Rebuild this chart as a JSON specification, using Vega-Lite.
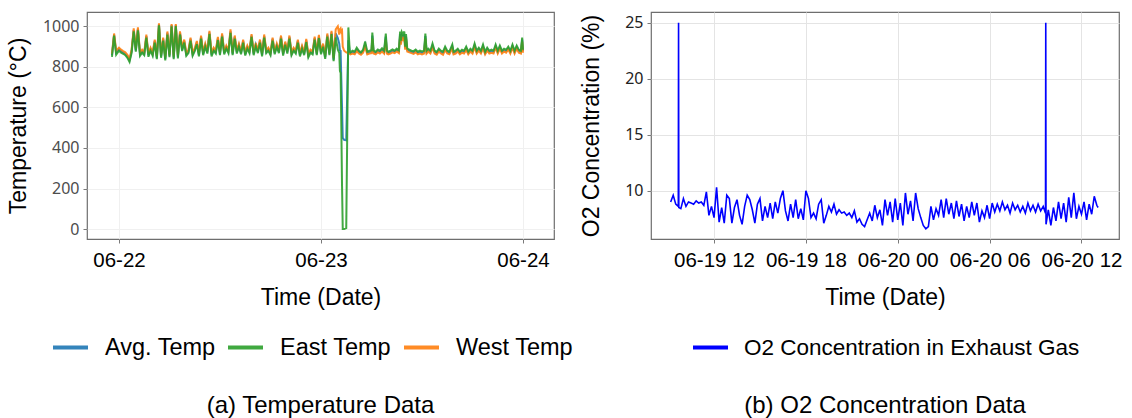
{
"$schema": "https://vega.github.io/schema/vega-lite/v6.json",
"background": "white",
"padding": {"left": 6, "top": 11, "right": 4, "bottom": 4},
"config": {
  "view": {"stroke": "#6e6e6e", "strokeWidth": 1.2},
  "font": "Liberation Sans",
  "axis": {"grid": true, "domain": false, "tickColor": "#7a7a7a", "tickSize": 4, "titleFont": "Liberation Sans", "titleFontWeight": "normal", "titleColor": "black", "titleFontSize": 23, "labelColor": "black"},
  "legend": {"padding": 0, "offset": 0, "symbolType": "stroke", "symbolStrokeWidth": 4, "symbolSize": 1225, "labelFontSize": 23.5, "labelFont": "Liberation Sans", "labelColor": "black", "labelOffset": 15, "labelLimit": 0, "columnPadding": 4, "direction": "horizontal", "title": null},
  "title": {"font": "Liberation Sans", "fontSize": 24, "fontWeight": "normal", "color": "black", "anchor": "middle"}
},
"resolve": {"scale": {"color": "independent"}, "legend": {"color": "independent"}},
"datasets": {
"temp": [
{"t":"2023-06-21T23:10","e":850,"w":865,"a":858},
{"t":"2023-06-21T23:25","e":955,"w":965,"a":960},
{"t":"2023-06-21T23:40","e":860,"w":880,"a":870},
{"t":"2023-06-22T00:00","e":880,"w":895,"a":888},
{"t":"2023-06-22T00:15","e":870,"w":885,"a":878},
{"t":"2023-06-22T00:30","e":865,"w":878,"a":872},
{"t":"2023-06-22T00:45","e":858,"w":872,"a":865},
{"t":"2023-06-22T01:00","e":845,"w":860,"a":852},
{"t":"2023-06-22T01:15","e":825,"w":840,"a":832},
{"t":"2023-06-22T01:30","e":870,"w":885,"a":878},
{"t":"2023-06-22T01:45","e":975,"w":990,"a":982},
{"t":"2023-06-22T02:00","e":875,"w":890,"a":882},
{"t":"2023-06-22T02:15","e":980,"w":995,"a":988},
{"t":"2023-06-22T02:30","e":855,"w":870,"a":862},
{"t":"2023-06-22T02:45","e":870,"w":885,"a":878},
{"t":"2023-06-22T03:00","e":858,"w":872,"a":865},
{"t":"2023-06-22T03:15","e":945,"w":960,"a":952},
{"t":"2023-06-22T03:30","e":850,"w":866,"a":858},
{"t":"2023-06-22T03:45","e":880,"w":895,"a":888},
{"t":"2023-06-22T04:00","e":855,"w":870,"a":862},
{"t":"2023-06-22T04:15","e":920,"w":935,"a":928},
{"t":"2023-06-22T04:30","e":838,"w":852,"a":845},
{"t":"2023-06-22T04:45","e":1005,"w":1015,"a":1010},
{"t":"2023-06-22T05:00","e":845,"w":860,"a":852},
{"t":"2023-06-22T05:15","e":930,"w":945,"a":938},
{"t":"2023-06-22T05:30","e":832,"w":848,"a":840},
{"t":"2023-06-22T05:45","e":960,"w":975,"a":968},
{"t":"2023-06-22T06:00","e":848,"w":862,"a":855},
{"t":"2023-06-22T06:15","e":1000,"w":1012,"a":1006},
{"t":"2023-06-22T06:30","e":838,"w":852,"a":845},
{"t":"2023-06-22T06:45","e":1002,"w":1012,"a":1007},
{"t":"2023-06-22T07:00","e":842,"w":858,"a":850},
{"t":"2023-06-22T07:15","e":960,"w":975,"a":968},
{"t":"2023-06-22T07:30","e":878,"w":892,"a":885},
{"t":"2023-06-22T07:45","e":920,"w":935,"a":928},
{"t":"2023-06-22T08:00","e":855,"w":870,"a":862},
{"t":"2023-06-22T08:15","e":868,"w":882,"a":875},
{"t":"2023-06-22T08:30","e":930,"w":945,"a":938},
{"t":"2023-06-22T08:45","e":855,"w":870,"a":862},
{"t":"2023-06-22T09:00","e":878,"w":892,"a":885},
{"t":"2023-06-22T09:15","e":912,"w":928,"a":920},
{"t":"2023-06-22T09:30","e":852,"w":868,"a":860},
{"t":"2023-06-22T09:45","e":940,"w":955,"a":948},
{"t":"2023-06-22T10:00","e":858,"w":872,"a":865},
{"t":"2023-06-22T10:15","e":900,"w":915,"a":908},
{"t":"2023-06-22T10:30","e":866,"w":880,"a":873},
{"t":"2023-06-22T10:45","e":962,"w":978,"a":970},
{"t":"2023-06-22T11:00","e":852,"w":868,"a":860},
{"t":"2023-06-22T11:15","e":880,"w":895,"a":888},
{"t":"2023-06-22T11:30","e":866,"w":880,"a":873},
{"t":"2023-06-22T11:45","e":932,"w":948,"a":940},
{"t":"2023-06-22T12:00","e":858,"w":872,"a":865},
{"t":"2023-06-22T12:15","e":950,"w":965,"a":958},
{"t":"2023-06-22T12:30","e":862,"w":876,"a":869},
{"t":"2023-06-22T12:45","e":890,"w":905,"a":898},
{"t":"2023-06-22T13:00","e":868,"w":882,"a":875},
{"t":"2023-06-22T13:15","e":968,"w":985,"a":976},
{"t":"2023-06-22T13:30","e":858,"w":872,"a":865},
{"t":"2023-06-22T13:45","e":940,"w":955,"a":948},
{"t":"2023-06-22T14:00","e":866,"w":880,"a":873},
{"t":"2023-06-22T14:15","e":900,"w":915,"a":908},
{"t":"2023-06-22T14:30","e":862,"w":876,"a":869},
{"t":"2023-06-22T14:45","e":920,"w":935,"a":928},
{"t":"2023-06-22T15:00","e":856,"w":870,"a":863},
{"t":"2023-06-22T15:15","e":890,"w":905,"a":898},
{"t":"2023-06-22T15:30","e":868,"w":882,"a":875},
{"t":"2023-06-22T15:45","e":948,"w":962,"a":955},
{"t":"2023-06-22T16:00","e":858,"w":872,"a":865},
{"t":"2023-06-22T16:15","e":902,"w":918,"a":910},
{"t":"2023-06-22T16:30","e":868,"w":882,"a":875},
{"t":"2023-06-22T16:45","e":920,"w":935,"a":928},
{"t":"2023-06-22T17:00","e":852,"w":868,"a":860},
{"t":"2023-06-22T17:15","e":945,"w":960,"a":952},
{"t":"2023-06-22T17:30","e":868,"w":882,"a":875},
{"t":"2023-06-22T17:45","e":880,"w":895,"a":888},
{"t":"2023-06-22T18:00","e":858,"w":872,"a":865},
{"t":"2023-06-22T18:15","e":930,"w":945,"a":938},
{"t":"2023-06-22T18:30","e":862,"w":876,"a":869},
{"t":"2023-06-22T18:45","e":900,"w":915,"a":908},
{"t":"2023-06-22T19:00","e":868,"w":882,"a":875},
{"t":"2023-06-22T19:15","e":940,"w":955,"a":948},
{"t":"2023-06-22T19:30","e":856,"w":870,"a":863},
{"t":"2023-06-22T19:45","e":910,"w":925,"a":918},
{"t":"2023-06-22T20:00","e":866,"w":880,"a":873},
{"t":"2023-06-22T20:15","e":940,"w":955,"a":948},
{"t":"2023-06-22T20:30","e":858,"w":872,"a":865},
{"t":"2023-06-22T20:45","e":880,"w":895,"a":888},
{"t":"2023-06-22T21:00","e":866,"w":880,"a":873},
{"t":"2023-06-22T21:15","e":920,"w":935,"a":928},
{"t":"2023-06-22T21:30","e":852,"w":868,"a":860},
{"t":"2023-06-22T21:45","e":890,"w":905,"a":898},
{"t":"2023-06-22T22:00","e":858,"w":872,"a":865},
{"t":"2023-06-22T22:15","e":922,"w":938,"a":930},
{"t":"2023-06-22T22:30","e":848,"w":862,"a":855},
{"t":"2023-06-22T22:45","e":870,"w":885,"a":878},
{"t":"2023-06-22T23:00","e":862,"w":876,"a":869},
{"t":"2023-06-22T23:15","e":935,"w":950,"a":942},
{"t":"2023-06-22T23:30","e":858,"w":872,"a":865},
{"t":"2023-06-22T23:45","e":942,"w":958,"a":950},
{"t":"2023-06-23T00:00","e":862,"w":876,"a":869},
{"t":"2023-06-23T00:15","e":900,"w":915,"a":908},
{"t":"2023-06-23T00:30","e":840,"w":856,"a":848},
{"t":"2023-06-23T00:45","e":950,"w":965,"a":958},
{"t":"2023-06-23T01:00","e":858,"w":872,"a":865},
{"t":"2023-06-23T01:15","e":962,"w":978,"a":970},
{"t":"2023-06-23T01:30","e":828,"w":845,"a":836},
{"t":"2023-06-23T01:45","e":945,"w":985,"a":965},
{"t":"2023-06-23T02:00","e":885,"w":1000,"a":942},
{"t":"2023-06-23T02:10","e":870,"w":960,"a":915},
{"t":"2023-06-23T02:15","e":780,"w":985,"a":882},
{"t":"2023-06-23T02:20","e":770,"w":990,"a":880},
{"t":"2023-06-23T02:25","e":500,"w":975,"a":738},
{"t":"2023-06-23T02:30","e":215,"w":980,"a":598},
{"t":"2023-06-23T02:35","e":0,"w":900,"a":450},
{"t":"2023-06-23T02:45","e":0,"w":880,"a":440},
{"t":"2023-06-23T03:00","e":5,"w":872,"a":438},
{"t":"2023-06-23T03:15","e":995,"w":868,"a":932},
{"t":"2023-06-23T03:25","e":880,"w":865,"a":872},
{"t":"2023-06-23T03:30","e":872,"w":862,"a":867},
{"t":"2023-06-23T03:45","e":880,"w":866,"a":873},
{"t":"2023-06-23T04:00","e":875,"w":862,"a":868},
{"t":"2023-06-23T04:15","e":895,"w":878,"a":886},
{"t":"2023-06-23T04:30","e":880,"w":866,"a":873},
{"t":"2023-06-23T04:45","e":872,"w":860,"a":866},
{"t":"2023-06-23T05:00","e":885,"w":870,"a":878},
{"t":"2023-06-23T05:15","e":925,"w":900,"a":912},
{"t":"2023-06-23T05:30","e":875,"w":862,"a":868},
{"t":"2023-06-23T05:45","e":880,"w":866,"a":873},
{"t":"2023-06-23T06:00","e":882,"w":868,"a":875},
{"t":"2023-06-23T06:06","e":970,"w":940,"a":955},
{"t":"2023-06-23T06:15","e":880,"w":866,"a":873},
{"t":"2023-06-23T06:30","e":875,"w":862,"a":868},
{"t":"2023-06-23T06:45","e":886,"w":872,"a":879},
{"t":"2023-06-23T07:00","e":880,"w":866,"a":873},
{"t":"2023-06-23T07:15","e":892,"w":876,"a":884},
{"t":"2023-06-23T07:30","e":880,"w":866,"a":873},
{"t":"2023-06-23T07:42","e":965,"w":935,"a":950},
{"t":"2023-06-23T07:50","e":880,"w":866,"a":873},
{"t":"2023-06-23T08:00","e":875,"w":862,"a":868},
{"t":"2023-06-23T08:15","e":880,"w":866,"a":873},
{"t":"2023-06-23T08:30","e":886,"w":872,"a":879},
{"t":"2023-06-23T08:45","e":880,"w":868,"a":874},
{"t":"2023-06-23T09:00","e":890,"w":876,"a":883},
{"t":"2023-06-23T09:15","e":882,"w":868,"a":875},
{"t":"2023-06-23T09:24","e":975,"w":950,"a":962},
{"t":"2023-06-23T09:30","e":930,"w":910,"a":920},
{"t":"2023-06-23T09:36","e":972,"w":945,"a":958},
{"t":"2023-06-23T09:45","e":960,"w":935,"a":948},
{"t":"2023-06-23T09:54","e":975,"w":950,"a":962},
{"t":"2023-06-23T10:00","e":900,"w":885,"a":892},
{"t":"2023-06-23T10:06","e":962,"w":940,"a":951},
{"t":"2023-06-23T10:15","e":890,"w":876,"a":883},
{"t":"2023-06-23T10:30","e":885,"w":872,"a":878},
{"t":"2023-06-23T10:45","e":880,"w":868,"a":874},
{"t":"2023-06-23T11:00","e":878,"w":864,"a":871},
{"t":"2023-06-23T11:15","e":886,"w":872,"a":879},
{"t":"2023-06-23T11:30","e":875,"w":862,"a":868},
{"t":"2023-06-23T11:45","e":880,"w":866,"a":873},
{"t":"2023-06-23T12:00","e":876,"w":862,"a":869},
{"t":"2023-06-23T12:15","e":880,"w":866,"a":873},
{"t":"2023-06-23T12:24","e":965,"w":940,"a":952},
{"t":"2023-06-23T12:33","e":880,"w":866,"a":873},
{"t":"2023-06-23T12:45","e":890,"w":876,"a":883},
{"t":"2023-06-23T13:00","e":880,"w":866,"a":873},
{"t":"2023-06-23T13:15","e":915,"w":895,"a":905},
{"t":"2023-06-23T13:30","e":880,"w":866,"a":873},
{"t":"2023-06-23T13:45","e":874,"w":860,"a":867},
{"t":"2023-06-23T14:00","e":890,"w":876,"a":883},
{"t":"2023-06-23T14:15","e":880,"w":866,"a":873},
{"t":"2023-06-23T14:30","e":875,"w":860,"a":868},
{"t":"2023-06-23T14:45","e":900,"w":884,"a":892},
{"t":"2023-06-23T15:00","e":880,"w":866,"a":873},
{"t":"2023-06-23T15:15","e":875,"w":862,"a":868},
{"t":"2023-06-23T15:36","e":910,"w":892,"a":901},
{"t":"2023-06-23T15:45","e":875,"w":862,"a":868},
{"t":"2023-06-23T16:00","e":880,"w":866,"a":873},
{"t":"2023-06-23T16:15","e":890,"w":876,"a":883},
{"t":"2023-06-23T16:30","e":875,"w":862,"a":868},
{"t":"2023-06-23T16:45","e":885,"w":870,"a":878},
{"t":"2023-06-23T17:00","e":880,"w":866,"a":873},
{"t":"2023-06-23T17:15","e":900,"w":884,"a":892},
{"t":"2023-06-23T17:30","e":875,"w":862,"a":868},
{"t":"2023-06-23T17:45","e":890,"w":876,"a":883},
{"t":"2023-06-23T18:00","e":880,"w":866,"a":873},
{"t":"2023-06-23T18:15","e":915,"w":898,"a":906},
{"t":"2023-06-23T18:30","e":880,"w":866,"a":873},
{"t":"2023-06-23T18:45","e":895,"w":880,"a":888},
{"t":"2023-06-23T19:00","e":880,"w":866,"a":873},
{"t":"2023-06-23T19:15","e":910,"w":892,"a":901},
{"t":"2023-06-23T19:30","e":875,"w":862,"a":868},
{"t":"2023-06-23T19:45","e":895,"w":880,"a":888},
{"t":"2023-06-23T20:00","e":880,"w":866,"a":873},
{"t":"2023-06-23T20:15","e":885,"w":870,"a":878},
{"t":"2023-06-23T20:30","e":880,"w":866,"a":873},
{"t":"2023-06-23T20:45","e":910,"w":895,"a":902},
{"t":"2023-06-23T21:00","e":880,"w":866,"a":873},
{"t":"2023-06-23T21:15","e":905,"w":890,"a":898},
{"t":"2023-06-23T21:30","e":880,"w":866,"a":873},
{"t":"2023-06-23T21:45","e":890,"w":876,"a":883},
{"t":"2023-06-23T22:00","e":885,"w":870,"a":878},
{"t":"2023-06-23T22:15","e":900,"w":886,"a":893},
{"t":"2023-06-23T22:30","e":880,"w":866,"a":873},
{"t":"2023-06-23T22:45","e":910,"w":895,"a":902},
{"t":"2023-06-23T23:00","e":880,"w":866,"a":873},
{"t":"2023-06-23T23:15","e":905,"w":890,"a":898},
{"t":"2023-06-23T23:30","e":885,"w":870,"a":878},
{"t":"2023-06-23T23:45","e":880,"w":866,"a":873},
{"t":"2023-06-23T23:54","e":945,"w":925,"a":935},
{"t":"2023-06-24T00:00","e":885,"w":870,"a":878}
],
"o2": [
{"t":"2023-06-19T09:10","o":9.0},
{"t":"2023-06-19T09:20","o":9.6},
{"t":"2023-06-19T09:30","o":8.8},
{"t":"2023-06-19T09:40","o":8.6},
{"t":"2023-06-19T09:41","o":25.0},
{"t":"2023-06-19T09:42","o":8.5},
{"t":"2023-06-19T09:50","o":8.4},
{"t":"2023-06-19T10:00","o":9.3},
{"t":"2023-06-19T10:10","o":8.6},
{"t":"2023-06-19T10:20","o":9.0},
{"t":"2023-06-19T10:30","o":8.9},
{"t":"2023-06-19T10:40","o":8.8},
{"t":"2023-06-19T10:50","o":9.1},
{"t":"2023-06-19T11:00","o":8.9},
{"t":"2023-06-19T11:10","o":9.0},
{"t":"2023-06-19T11:20","o":8.7},
{"t":"2023-06-19T11:30","o":9.9},
{"t":"2023-06-19T11:40","o":7.8},
{"t":"2023-06-19T11:50","o":8.6},
{"t":"2023-06-19T12:00","o":7.6},
{"t":"2023-06-19T12:10","o":10.3},
{"t":"2023-06-19T12:20","o":7.2},
{"t":"2023-06-19T12:30","o":8.5},
{"t":"2023-06-19T12:40","o":7.1},
{"t":"2023-06-19T12:50","o":9.6},
{"t":"2023-06-19T13:00","o":9.3},
{"t":"2023-06-19T13:10","o":7.1},
{"t":"2023-06-19T13:20","o":8.5},
{"t":"2023-06-19T13:30","o":9.2},
{"t":"2023-06-19T13:40","o":7.8},
{"t":"2023-06-19T13:50","o":7.0},
{"t":"2023-06-19T14:00","o":8.6},
{"t":"2023-06-19T14:10","o":9.6},
{"t":"2023-06-19T14:20","o":9.2},
{"t":"2023-06-19T14:30","o":8.3},
{"t":"2023-06-19T14:40","o":7.1},
{"t":"2023-06-19T14:50","o":8.8},
{"t":"2023-06-19T15:00","o":9.3},
{"t":"2023-06-19T15:10","o":7.3},
{"t":"2023-06-19T15:20","o":8.6},
{"t":"2023-06-19T15:30","o":7.6},
{"t":"2023-06-19T15:40","o":8.9},
{"t":"2023-06-19T15:50","o":7.5},
{"t":"2023-06-19T16:00","o":9.0},
{"t":"2023-06-19T16:10","o":8.0},
{"t":"2023-06-19T16:20","o":9.3},
{"t":"2023-06-19T16:30","o":10.0},
{"t":"2023-06-19T16:40","o":8.2},
{"t":"2023-06-19T16:50","o":7.3},
{"t":"2023-06-19T17:00","o":8.8},
{"t":"2023-06-19T17:10","o":7.6},
{"t":"2023-06-19T17:20","o":9.2},
{"t":"2023-06-19T17:30","o":7.5},
{"t":"2023-06-19T17:40","o":8.4},
{"t":"2023-06-19T17:50","o":7.4},
{"t":"2023-06-19T18:00","o":10.0},
{"t":"2023-06-19T18:10","o":9.3},
{"t":"2023-06-19T18:20","o":7.6},
{"t":"2023-06-19T18:30","o":8.0},
{"t":"2023-06-19T18:40","o":7.5},
{"t":"2023-06-19T18:50","o":8.8},
{"t":"2023-06-19T19:00","o":9.2},
{"t":"2023-06-19T19:10","o":7.1},
{"t":"2023-06-19T19:20","o":7.8},
{"t":"2023-06-19T19:30","o":8.6},
{"t":"2023-06-19T19:40","o":8.1},
{"t":"2023-06-19T19:50","o":8.8},
{"t":"2023-06-19T20:00","o":7.9},
{"t":"2023-06-19T20:10","o":8.3},
{"t":"2023-06-19T20:20","o":8.0},
{"t":"2023-06-19T20:30","o":8.1},
{"t":"2023-06-19T20:40","o":7.8},
{"t":"2023-06-19T20:50","o":8.0},
{"t":"2023-06-19T21:00","o":7.6},
{"t":"2023-06-19T21:10","o":8.2},
{"t":"2023-06-19T21:20","o":7.2},
{"t":"2023-06-19T21:30","o":7.5},
{"t":"2023-06-19T21:40","o":7.0},
{"t":"2023-06-19T21:50","o":6.8},
{"t":"2023-06-19T22:00","o":7.4},
{"t":"2023-06-19T22:10","o":8.0},
{"t":"2023-06-19T22:20","o":7.3},
{"t":"2023-06-19T22:30","o":8.7},
{"t":"2023-06-19T22:40","o":7.6},
{"t":"2023-06-19T22:50","o":8.3},
{"t":"2023-06-19T23:00","o":6.9},
{"t":"2023-06-19T23:10","o":9.2},
{"t":"2023-06-19T23:20","o":7.8},
{"t":"2023-06-19T23:30","o":9.0},
{"t":"2023-06-19T23:40","o":7.2},
{"t":"2023-06-19T23:50","o":9.3},
{"t":"2023-06-20T00:00","o":7.4},
{"t":"2023-06-20T00:10","o":8.9},
{"t":"2023-06-20T00:20","o":6.9},
{"t":"2023-06-20T00:30","o":9.8},
{"t":"2023-06-20T00:40","o":7.9},
{"t":"2023-06-20T00:50","o":9.1},
{"t":"2023-06-20T01:00","o":7.3},
{"t":"2023-06-20T01:10","o":9.8},
{"t":"2023-06-20T01:20","o":8.4},
{"t":"2023-06-20T01:30","o":7.6},
{"t":"2023-06-20T01:40","o":6.9},
{"t":"2023-06-20T01:50","o":6.6},
{"t":"2023-06-20T02:00","o":6.8},
{"t":"2023-06-20T02:10","o":8.6},
{"t":"2023-06-20T02:20","o":7.4},
{"t":"2023-06-20T02:30","o":8.4},
{"t":"2023-06-20T02:40","o":7.8},
{"t":"2023-06-20T02:50","o":9.2},
{"t":"2023-06-20T03:00","o":7.6},
{"t":"2023-06-20T03:10","o":9.3},
{"t":"2023-06-20T03:20","o":7.9},
{"t":"2023-06-20T03:30","o":8.9},
{"t":"2023-06-20T03:40","o":7.5},
{"t":"2023-06-20T03:50","o":9.1},
{"t":"2023-06-20T04:00","o":7.7},
{"t":"2023-06-20T04:10","o":8.8},
{"t":"2023-06-20T04:20","o":7.3},
{"t":"2023-06-20T04:30","o":8.6},
{"t":"2023-06-20T04:40","o":7.6},
{"t":"2023-06-20T04:50","o":9.0},
{"t":"2023-06-20T05:00","o":7.8},
{"t":"2023-06-20T05:10","o":8.9},
{"t":"2023-06-20T05:20","o":7.2},
{"t":"2023-06-20T05:30","o":8.2},
{"t":"2023-06-20T05:40","o":7.6},
{"t":"2023-06-20T05:50","o":8.7},
{"t":"2023-06-20T06:00","o":7.5},
{"t":"2023-06-20T06:10","o":8.9},
{"t":"2023-06-20T06:20","o":8.1},
{"t":"2023-06-20T06:30","o":8.8},
{"t":"2023-06-20T06:40","o":8.2},
{"t":"2023-06-20T06:50","o":9.0},
{"t":"2023-06-20T07:00","o":8.3},
{"t":"2023-06-20T07:10","o":8.7},
{"t":"2023-06-20T07:20","o":8.0},
{"t":"2023-06-20T07:30","o":8.9},
{"t":"2023-06-20T07:40","o":8.3},
{"t":"2023-06-20T07:50","o":8.7},
{"t":"2023-06-20T08:00","o":8.1},
{"t":"2023-06-20T08:10","o":8.6},
{"t":"2023-06-20T08:20","o":8.0},
{"t":"2023-06-20T08:30","o":8.9},
{"t":"2023-06-20T08:40","o":8.2},
{"t":"2023-06-20T08:50","o":8.7},
{"t":"2023-06-20T09:00","o":8.1},
{"t":"2023-06-20T09:10","o":8.8},
{"t":"2023-06-20T09:20","o":8.2},
{"t":"2023-06-20T09:30","o":8.6},
{"t":"2023-06-20T09:39","o":8.0},
{"t":"2023-06-20T09:40","o":25.0},
{"t":"2023-06-20T09:41","o":7.0},
{"t":"2023-06-20T09:50","o":8.3},
{"t":"2023-06-20T10:00","o":6.9},
{"t":"2023-06-20T10:10","o":8.5},
{"t":"2023-06-20T10:20","o":7.3},
{"t":"2023-06-20T10:30","o":9.0},
{"t":"2023-06-20T10:40","o":7.5},
{"t":"2023-06-20T10:50","o":8.9},
{"t":"2023-06-20T11:00","o":7.2},
{"t":"2023-06-20T11:10","o":9.4},
{"t":"2023-06-20T11:20","o":7.6},
{"t":"2023-06-20T11:30","o":9.8},
{"t":"2023-06-20T11:40","o":7.5},
{"t":"2023-06-20T11:50","o":8.6},
{"t":"2023-06-20T12:00","o":7.9},
{"t":"2023-06-20T12:10","o":9.0},
{"t":"2023-06-20T12:20","o":7.4},
{"t":"2023-06-20T12:30","o":8.8},
{"t":"2023-06-20T12:40","o":7.9},
{"t":"2023-06-20T12:50","o":9.5},
{"t":"2023-06-20T13:00","o":8.7},
{"t":"2023-06-20T13:05","o":8.5}
]
},
"bounds": "flush",
"spacing": 97,
"hconcat": [
{
  "width": 467, "height": 227,
  "title": {"text": "(a) Temperature Data", "orient": "bottom", "offset": 35, "frame": "group"},
  "data": {"name": "temp"},
  "transform": [{"fold": ["a", "w", "e"], "as": ["series", "value"]}],
  "mark": {"type": "line", "strokeWidth": 2, "opacity": 0.9},
  "encoding": {
    "x": {"field": "t", "type": "temporal",
      "scale": {"domain": [{"year": 2023, "month": 6, "date": 21, "hours": 20, "minutes": 12}, {"year": 2023, "month": 6, "date": 24, "hours": 3, "minutes": 41}]},
      "axis": {"title": "Time (Date)", "format": "%m-%d", "labelFontSize": 20.5, "labelPadding": 7, "titlePadding": 16, "gridColor": "#f0f0f0",
        "values": [{"year": 2023, "month": 6, "date": 22}, {"year": 2023, "month": 6, "date": 23}, {"year": 2023, "month": 6, "date": 24}]}},
    "y": {"field": "value", "type": "quantitative",
      "scale": {"domain": [-49, 1071], "nice": false, "zero": false},
      "axis": {"title": "Temperature (°C)", "format": "d", "values": [0, 200, 400, 600, 800, 1000], "labelFont": "Noto Sans", "labelFontSize": 16, "labelColor": "#4d4d4d", "labelPadding": 4, "titlePadding": 12, "gridColor": "#f0f0f0"}},
    "color": {"field": "series", "type": "nominal",
      "scale": {"domain": ["a", "e", "w"], "range": ["#1f77b4", "#2ca02c", "#ff7f0e"]},
      "legend": {"orient": "none", "legendX": -36, "legendY": 316, "labelExpr": "{'a': 'Avg. Temp', 'e': 'East Temp', 'w': 'West Temp'}[datum.label]"}}
  }
},
{
  "width": 468, "height": 227,
  "title": {"text": "(b) O2 Concentration Data", "orient": "bottom", "offset": 35, "frame": "group"},
  "data": {"name": "o2"},
  "mark": {"type": "line", "strokeWidth": 1.6},
  "encoding": {
    "x": {"field": "t", "type": "temporal",
      "scale": {"domain": [{"year": 2023, "month": 6, "date": 19, "hours": 7, "minutes": 53}, {"year": 2023, "month": 6, "date": 20, "hours": 14, "minutes": 27}]},
      "axis": {"title": "Time (Date)", "format": "%m-%d %H", "labelFontSize": 20.5, "labelPadding": 7, "titlePadding": 16, "gridColor": "#e4e4e4",
        "values": [{"year": 2023, "month": 6, "date": 19, "hours": 12}, {"year": 2023, "month": 6, "date": 19, "hours": 18}, {"year": 2023, "month": 6, "date": 20, "hours": 0}, {"year": 2023, "month": 6, "date": 20, "hours": 6}, {"year": 2023, "month": 6, "date": 20, "hours": 12}]}},
    "y": {"field": "o", "type": "quantitative",
      "scale": {"domain": [5.69, 25.95], "nice": false, "zero": false},
      "axis": {"title": "O2 Concentration (%)", "values": [10, 15, 20, 25], "labelFont": "Noto Sans", "labelFontSize": 16, "labelColor": "#222222", "labelPadding": 4, "titlePadding": 21, "gridColor": "#e4e4e4"}},
    "color": {"datum": "O2 Concentration in Exhaust Gas", "type": "nominal",
      "scale": {"range": ["#0000ff"]},
      "legend": {"orient": "none", "legendX": 40, "legendY": 316, "labelFontSize": 22.5, "labelOffset": 14}}
  }
}
]
}
